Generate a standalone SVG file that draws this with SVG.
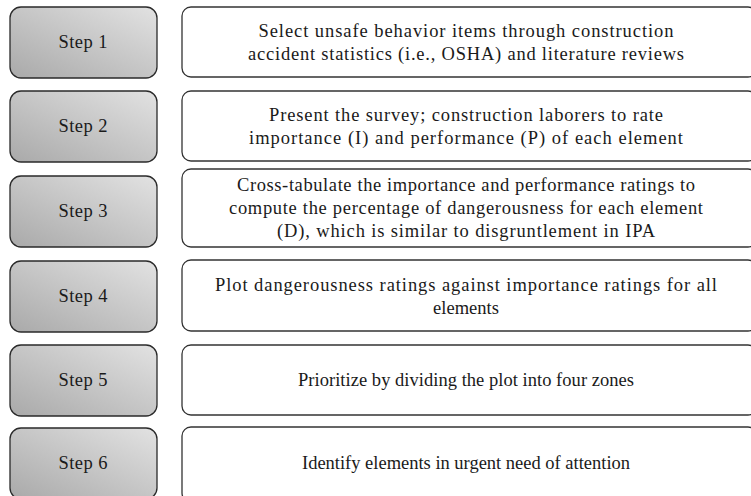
<svg xmlns="http://www.w3.org/2000/svg" width="751" height="496" viewBox="0 0 751 496">
<defs>
<linearGradient id="g" x1="0" y1="1" x2="1" y2="0">
<stop offset="0" stop-color="#a9a9a9"/>
<stop offset="1" stop-color="#e2e2e2"/>
</linearGradient>
<style>
.step{fill:url(#g);stroke:#2a2a2a;stroke-width:1.3}
.desc{fill:#fff;stroke:#333;stroke-width:1.3}
text{font-family:"Liberation Serif","DejaVu Serif",serif;font-size:18.5px;fill:#1a1a1a}
.c{text-anchor:middle}
</style>
</defs>
<rect width="751" height="496" fill="#fff"/>
<g id="connectors"></g>
<g id="step1"><rect class="step" x="10" y="7" width="147" height="71" rx="11"/><text class="c" x="83" y="48" textLength="49" lengthAdjust="spacing">Step 1</text></g>
<g id="step2"><rect class="step" x="10" y="91" width="147" height="71" rx="11"/><text class="c" x="83" y="132" textLength="49" lengthAdjust="spacing">Step 2</text></g>
<g id="step3"><rect class="step" x="10" y="176" width="147" height="71" rx="11"/><text class="c" x="83" y="217" textLength="49" lengthAdjust="spacing">Step 3</text></g>
<g id="step4"><rect class="step" x="10" y="261" width="147" height="71" rx="11"/><text class="c" x="83" y="302" textLength="49" lengthAdjust="spacing">Step 4</text></g>
<g id="step5"><rect class="step" x="10" y="345" width="147" height="71" rx="11"/><text class="c" x="83" y="386" textLength="49" lengthAdjust="spacing">Step 5</text></g>
<g id="step6"><rect class="step" x="10" y="428" width="147" height="71" rx="11"/><text class="c" x="83" y="469" textLength="49" lengthAdjust="spacing">Step 6</text></g>
<g id="desc1"><rect class="desc" x="182" y="7" width="575" height="70" rx="9"/>
<text class="c" x="466" y="37" textLength="415" lengthAdjust="spacing">Select unsafe behavior items through construction</text>
<text class="c" x="466" y="60" textLength="436" lengthAdjust="spacing">accident statistics (i.e., OSHA) and literature reviews</text></g>
<g id="desc2"><rect class="desc" x="182" y="91" width="575" height="70" rx="9"/>
<text class="c" x="466" y="121" textLength="394" lengthAdjust="spacing">Present the survey; construction laborers to rate</text>
<text class="c" x="466" y="144" textLength="434" lengthAdjust="spacing">importance (I) and performance (P) of each element</text></g>
<g id="desc3"><rect class="desc" x="182" y="169" width="575" height="78" rx="9"/>
<text class="c" x="466" y="191" textLength="458" lengthAdjust="spacing">Cross-tabulate the importance and performance ratings to</text>
<text class="c" x="466" y="214" textLength="474" lengthAdjust="spacing">compute the percentage of dangerousness for each element</text>
<text class="c" x="466" y="237" textLength="378" lengthAdjust="spacing">(D), which is similar to disgruntlement in IPA</text></g>
<g id="desc4"><rect class="desc" x="182" y="260" width="575" height="71" rx="9"/>
<text class="c" x="466" y="291" textLength="502" lengthAdjust="spacing">Plot dangerousness ratings against importance ratings for all</text>
<text class="c" x="466" y="314">elements</text></g>
<g id="desc5"><rect class="desc" x="182" y="345" width="575" height="70" rx="9"/>
<text class="c" x="466" y="386" textLength="336" lengthAdjust="spacing">Prioritize by dividing the plot into four zones</text></g>
<g id="desc6"><rect class="desc" x="182" y="427" width="575" height="75" rx="9"/>
<text class="c" x="466" y="469" textLength="328" lengthAdjust="spacing">Identify elements in urgent need of attention</text></g>
</svg>
